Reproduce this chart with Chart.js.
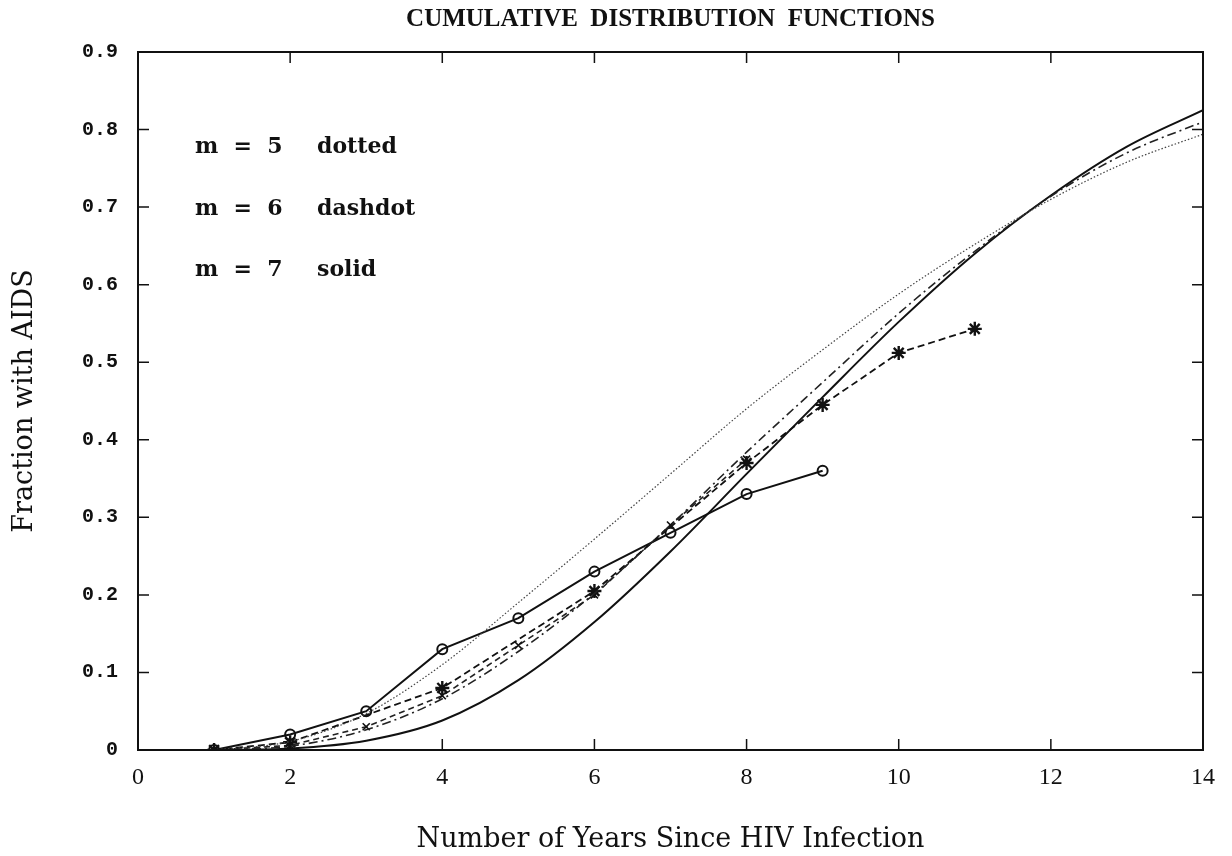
<!DOCTYPE html>
<html>
<head>
<meta charset="utf-8">
<script src="https://cdn.jsdelivr.net/npm/chart.js@4.4.1/dist/chart.umd.min.js"></script>
<style>
  html, body { margin: 0; padding: 0; background: #fff; }
  #wrap { width: 1232px; height: 856px; }
</style>
</head>
<body>
<div id="wrap"><canvas id="c" width="1232" height="856"></canvas></div>
<script>
// ---- data ----
const modelYears = [1, 2, 3, 4, 5, 6, 7, 8, 9, 10, 11, 12, 13, 14];
const modelM5 = [0, 0.011, 0.047, 0.11, 0.19, 0.272, 0.356, 0.44, 0.516, 0.588, 0.652, 0.71, 0.758, 0.794];
const modelM6 = [0, 0.005, 0.026, 0.066, 0.127, 0.202, 0.29, 0.384, 0.474, 0.563, 0.643, 0.714, 0.77, 0.81];
const modelM7 = [0, 0.002, 0.012, 0.038, 0.09, 0.165, 0.256, 0.356, 0.455, 0.552, 0.64, 0.715, 0.778, 0.825];

const circleYears = [1, 2, 3, 4, 5, 6, 7, 8, 9];
const circleValues = [0, 0.02, 0.05, 0.13, 0.17, 0.23, 0.28, 0.33, 0.36];

const starYears = [1, 2, 4, 6, 8, 9, 10, 11];
const starValues = [0, 0.01, 0.08, 0.205, 0.37, 0.445, 0.512, 0.543];

const crossYears = [1, 2, 3, 4, 5, 6, 7, 8];
const crossValues = [0, 0.006, 0.03, 0.07, 0.135, 0.2, 0.29, 0.375];

const xTickLabels = ['0', '2', '4', '6', '8', '10', '12', '14'];
const yTickLabels = ['0', '0.1', '0.2', '0.3', '0.4', '0.5', '0.6', '0.7', '0.8', '0.9'];

const legendLines = ['m = 5  dotted', 'm = 6  dashdot', 'm = 7  solid'];
const titleText = 'CUMULATIVE  DISTRIBUTION  FUNCTIONS';
const xTitle = 'Number of Years Since HIV Infection';
const yTitle = 'Fraction with AIDS';

// ---- helpers ----
const pts = (xs, ys) => xs.map((x, i) => ({ x: x, y: ys[i] }));

const frameTicks = {
  id: 'frameTicks',
  afterDatasetsDraw(chart) {
    const { ctx, chartArea: a, scales } = chart;
    ctx.save();
    ctx.strokeStyle = '#111';
    ctx.lineWidth = 2;
    ctx.strokeRect(a.left, a.top, a.right - a.left, a.bottom - a.top);
    const L = 11;
    ctx.lineWidth = 1.5;
    ctx.beginPath();
    scales.x.ticks.forEach(t => {
      const px = scales.x.getPixelForValue(t.value);
      ctx.moveTo(px, a.bottom); ctx.lineTo(px, a.bottom - L);
      ctx.moveTo(px, a.top); ctx.lineTo(px, a.top + L);
    });
    scales.y.ticks.forEach(t => {
      const py = scales.y.getPixelForValue(t.value);
      ctx.moveTo(a.left, py); ctx.lineTo(a.left + L, py);
      ctx.moveTo(a.right, py); ctx.lineTo(a.right - L, py);
    });
    ctx.stroke();
    // annotation legend
    ctx.fillStyle = '#111';
    ctx.font = 'bold 22px "DejaVu Serif"';
    ctx.textBaseline = 'middle';
    ctx.textAlign = 'left';
    const gaps = [95, 157, 218];
    legendLines.forEach((s, i) => {
      const parts = s.split('  ');
      ctx.fillText(parts[0].replace(/ /g, '  '), a.left + 57, a.top + gaps[i]);
      ctx.fillText(parts[1], a.left + 179, a.top + gaps[i]);
    });
    ctx.restore();
  }
};

const ctx = document.getElementById('c').getContext('2d');
new Chart(ctx, {
  type: 'line',
  data: {
    datasets: [
      {
        label: 'm = 5 (dotted)',
        data: pts(modelYears, modelM5),
        borderColor: '#444',
        borderWidth: 1.2,
        borderDash: [1.5, 2],
        pointRadius: 0,
        cubicInterpolationMode: 'monotone',
        fill: false
      },
      {
        label: 'm = 6 (dashdot)',
        data: pts(modelYears, modelM6),
        borderColor: '#222',
        borderWidth: 1.6,
        borderDash: [9, 4, 2, 4],
        pointRadius: 0,
        cubicInterpolationMode: 'monotone',
        fill: false
      },
      {
        label: 'm = 7 (solid)',
        data: pts(modelYears, modelM7),
        borderColor: '#111',
        borderWidth: 2,
        pointRadius: 0,
        cubicInterpolationMode: 'monotone',
        fill: false
      },
      {
        label: 'observed (o)',
        data: pts(circleYears, circleValues),
        borderColor: '#111',
        borderWidth: 2,
        tension: 0,
        pointStyle: 'circle',
        pointRadius: 5,
        pointBorderWidth: 2,
        pointBackgroundColor: 'rgba(255,255,255,0)',
        pointBorderColor: '#111',
        fill: false
      },
      {
        label: 'observed (*)',
        data: pts(starYears, starValues),
        borderColor: '#111',
        borderWidth: 1.8,
        borderDash: [7, 4],
        tension: 0,
        pointStyle: 'star',
        pointRadius: 7,
        pointBorderWidth: 2.4,
        pointBorderColor: '#111',
        fill: false
      },
      {
        label: 'observed (x)',
        data: pts(crossYears, crossValues),
        borderColor: '#222',
        borderWidth: 1.6,
        borderDash: [6, 4],
        tension: 0,
        pointStyle: 'crossRot',
        pointRadius: 5,
        pointBorderWidth: 1.6,
        pointBorderColor: '#111',
        fill: false
      }
    ]
  },
  options: {
    responsive: false,
    animation: false,
    layout: { padding: { left: 0, right: 29, top: 0, bottom: 0 } },
    plugins: {
      legend: { display: false },
      tooltip: { enabled: false },
      title: {
        display: true,
        fullSize: false,
        text: titleText,
        color: '#111',
        font: { family: '"Liberation Serif"', size: 25, weight: 'bold' },
        padding: { top: 5, bottom: 17 }
      }
    },
    scales: {
      x: {
        type: 'linear',
        min: 0, max: 14,
        grid: { display: false, drawTicks: false },
        border: { display: false },
        ticks: {
          stepSize: 2,
          padding: 13,
          color: '#111',
          font: { family: '"Liberation Serif"', size: 24 },
          callback: (v) => xTickLabels[Math.round(v / 2)]
        },
        title: {
          display: true,
          text: xTitle,
          color: '#111',
          font: { family: '"DejaVu Serif"', size: 27 },
          padding: { top: 0, bottom: 0 }
        },
        afterFit: (s) => { s.height = 106; }
      },
      y: {
        min: 0, max: 0.9,
        grid: { display: false, drawTicks: false },
        border: { display: false },
        ticks: {
          stepSize: 0.1,
          padding: 20,
          color: '#111',
          font: { family: '"Liberation Mono"', size: 20, weight: 'bold' },
          callback: (v) => yTickLabels[Math.round(v * 10)]
        },
        title: {
          display: true,
          text: yTitle,
          color: '#111',
          font: { family: '"DejaVu Serif"', size: 27 },
          padding: { top: 9, bottom: 0 }
        },
        afterFit: (s) => { s.width = 138; }
      }
    }
  },
  plugins: [frameTicks]
});
</script>
</body>
</html>
